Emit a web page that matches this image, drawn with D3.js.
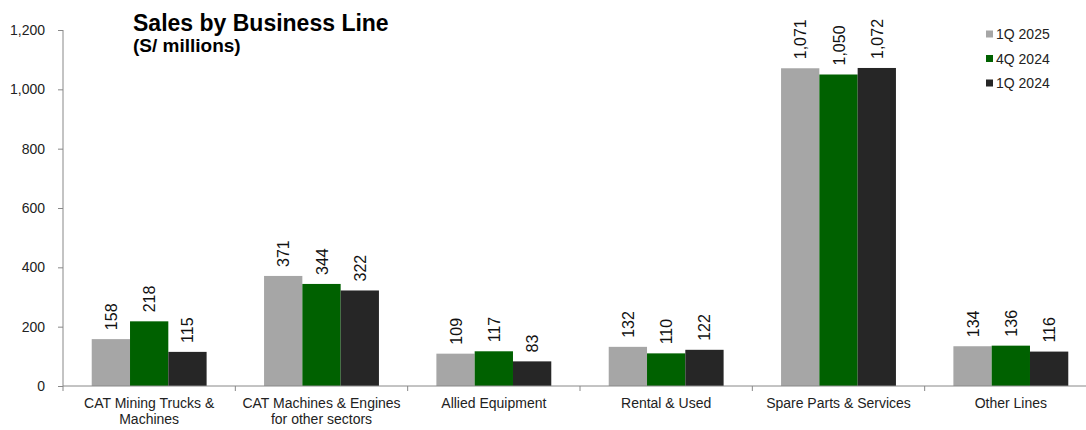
<!DOCTYPE html>
<html>
<head>
<meta charset="utf-8">
<script src="https://cdn.jsdelivr.net/npm/d3@7"></script>
<style>
  body { margin: 0; background: #fff; }
  svg { display: block; font-family: "Liberation Sans", Arial, sans-serif; }
</style>
</head>
<body>
<svg id="chart"></svg>
<script>
(function () {
  'use strict';

  const categories = [
    ['CAT Mining Trucks &', 'Machines'],
    ['CAT Machines & Engines', 'for other sectors'],
    ['Allied Equipment'],
    ['Rental & Used'],
    ['Spare Parts & Services'],
    ['Other Lines']
  ];
  const seriesNames = ['1Q 2025', '4Q 2024', '1Q 2024'];
  const q1_2025 = [158, 371, 109, 132, 1071, 134];
  const q4_2024 = [218, 344, 117, 110, 1050, 136];
  const q1_2024 = [115, 322, 83, 122, 1072, 116];
  const yTicks = [0, 200, 400, 600, 800, 1000, 1200];
  const colors = ['#a6a6a6', '#006100', '#262626'];

  const values = [q1_2025, q4_2024, q1_2024];
  const width = 1086, height = 430;
  // the plot runs past the right edge of the picture, as in the original
  const margin = { top: 30, left: 63, bottom: 44, right: -11 };

  const svg = d3.select('#chart')
    .attr('width', width)
    .attr('height', height);

  const x = d3.scaleBand()
    .domain(d3.range(categories.length))
    .range([margin.left, width - margin.right])
    .paddingInner(0)
    .paddingOuter(0);

  const x1 = d3.scaleBand()
    .domain(d3.range(seriesNames.length))
    .range([0, x.bandwidth()])
    .paddingOuter(0.75)
    .paddingInner(0);

  const y = d3.scaleLinear()
    .domain([0, 1200])
    .range([height - margin.bottom, margin.top]);

  // y axis
  const yAxis = svg.append('g')
    .attr('transform', `translate(${margin.left},0)`)
    .call(d3.axisLeft(y).tickValues(yTicks).tickSize(5).tickPadding(13)
      .tickFormat(d3.format(',')));
  yAxis.select('.domain').attr('stroke', '#888').attr('d', `M0,${y(1200)}V${y(0)}`);
  yAxis.selectAll('.tick line').attr('stroke', '#888');
  yAxis.selectAll('.tick text').attr('font-size', 14).attr('fill', '#222');

  // bars
  const groups = svg.append('g').selectAll('g')
    .data(categories)
    .join('g')
    .attr('transform', (d, i) => `translate(${x(i)},0)`);

  groups.selectAll('rect')
    .data((d, i) => values.map((s, k) => ({ k, v: s[i] })))
    .join('rect')
    .attr('x', d => x1(d.k))
    .attr('y', d => y(d.v))
    .attr('width', x1.bandwidth())
    .attr('height', d => y(0) - y(d.v))
    .attr('fill', d => colors[d.k]);

  groups.selectAll('text.val')
    .data((d, i) => values.map((s, k) => ({ k, v: s[i] })))
    .join('text')
    .attr('class', 'val')
    .attr('transform', d => `translate(${x1(d.k) + x1.bandwidth() / 2 + 6},${y(d.v) - 9}) rotate(-90)`)
    .attr('font-size', 16)
    .attr('fill', '#111')
    .text(d => d3.format(',')(d.v));

  // x axis
  const xAxisG = svg.append('g');
  xAxisG.append('line')
    .attr('x1', margin.left).attr('x2', width)
    .attr('y1', y(0)).attr('y2', y(0))
    .attr('stroke', '#888');
  xAxisG.selectAll('line.tk')
    .data(d3.range(categories.length + 1))
    .join('line')
    .attr('class', 'tk')
    .attr('x1', i => margin.left + i * x.bandwidth())
    .attr('x2', i => margin.left + i * x.bandwidth())
    .attr('y1', y(0)).attr('y2', y(0) + 5)
    .attr('stroke', '#888');

  const labels = xAxisG.selectAll('text')
    .data(categories)
    .join('text')
    .attr('text-anchor', 'middle')
    .attr('font-size', 14)
    .attr('fill', '#222');
  labels.selectAll('tspan')
    .data((d, i) => d.map(line => ({ line, i })))
    .join('tspan')
    .attr('x', d => x(d.i) + x.bandwidth() / 2)
    .attr('y', (d, j) => y(0) + 22 + j * 16)
    .text(d => d.line);

  // title
  svg.append('text')
    .attr('x', 133).attr('y', 31)
    .attr('font-size', 23).attr('font-weight', 'bold')
    .text('Sales by Business Line');
  svg.append('text')
    .attr('x', 133).attr('y', 52)
    .attr('font-size', 19).attr('font-weight', 'bold')
    .text('(S/ millions)');

  // legend
  const legend = svg.append('g').selectAll('g')
    .data(seriesNames)
    .join('g')
    .attr('transform', (d, i) => `translate(986,${34 + i * 24.5})`);
  legend.append('rect')
    .attr('x', 0).attr('y', -3.5)
    .attr('width', 7).attr('height', 7)
    .attr('fill', (d, i) => colors[i]);
  legend.append('text')
    .attr('x', 10).attr('y', 5)
    .attr('font-size', 14)
    .attr('fill', '#222')
    .text(d => d);
}());
</script>
</body>
</html>
